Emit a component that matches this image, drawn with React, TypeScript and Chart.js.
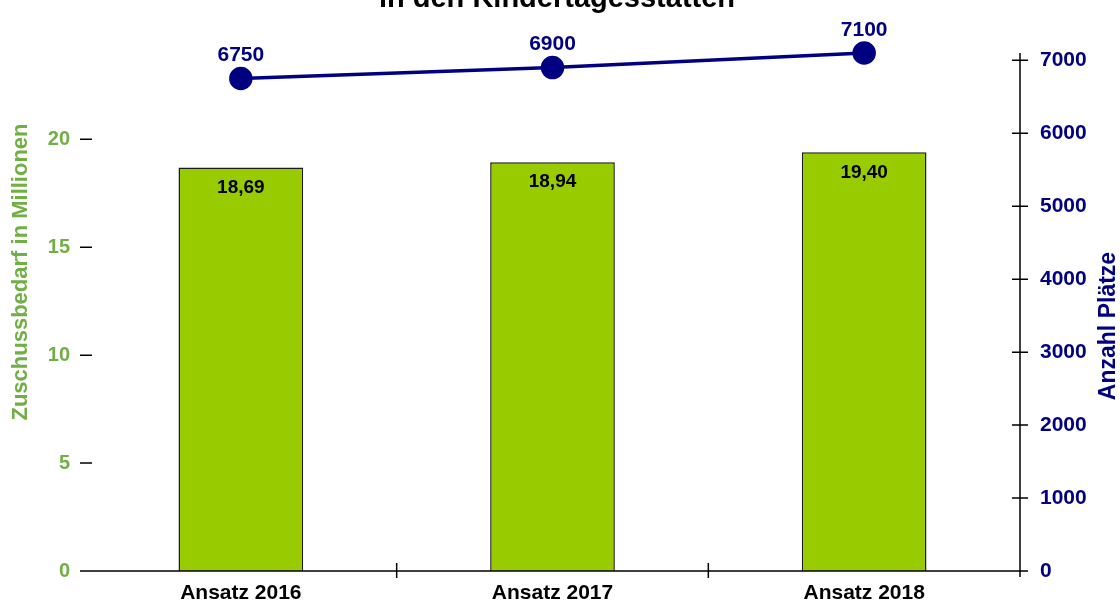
import React, { useEffect, useRef } from "react";
import { Chart, registerables } from "chart.js";

Chart.register(...registerables);

const categories = ["Ansatz 2016", "Ansatz 2017", "Ansatz 2018"];
const zuschussMio = [18.69, 18.94, 19.4];
const anzahlPlaetze = [6750, 6900, 7100];
const leftTickValues = [0, 5, 10, 15, 20];
const rightTickValues = [0, 1000, 2000, 3000, 4000, 5000, 6000, 7000];
const titleText = "in den Kindertagesstätten";
const leftAxisTitle = "Zuschussbedarf in Millionen";
const rightAxisTitle = "Anzahl Plätze";

const FONT = "'Liberation Sans', Arial, Helvetica, sans-serif";
const GREEN_TEXT = "#72AE46";
const NAVY = "#000080";
const BAR_GREEN = "#99CC00";

const decoPlugin = {
  id: "deco",
  afterDraw(chart: any) {
    const { ctx, chartArea } = chart;
    const { left, right, bottom } = chartArea;
    const xs = chart.scales.x;
    const yl = chart.scales.y;
    const yr = chart.scales.y1;
    ctx.save();
    // axes
    ctx.strokeStyle = "#000";
    ctx.lineWidth = 1.5;
    ctx.beginPath();
    ctx.moveTo(left - 5, bottom);
    ctx.lineTo(right, bottom);
    for (let i = 1; i < categories.length; i++) {
      const xp = (xs.getPixelForValue(i - 1) + xs.getPixelForValue(i)) / 2;
      ctx.moveTo(xp, bottom - 8);
      ctx.lineTo(xp, bottom + 7);
    }
    leftTickValues.forEach((v) => {
      const yp = yl.getPixelForValue(v);
      ctx.moveTo(left - 5, yp);
      ctx.lineTo(left + 7, yp);
    });
    ctx.moveTo(right, yr.getPixelForValue(yr.max));
    ctx.lineTo(right, bottom + 6);
    rightTickValues.forEach((v) => {
      const yp = yr.getPixelForValue(v);
      ctx.moveTo(right - 8, yp);
      ctx.lineTo(right + 8, yp);
    });
    ctx.stroke();

    // title
    ctx.fillStyle = "#000";
    ctx.font = `bold 29px ${FONT}`;
    ctx.textAlign = "center";
    ctx.textBaseline = "alphabetic";
    ctx.fillText(titleText, chart.width / 2 - 3, 7);

    // axis titles
    ctx.textBaseline = "middle";
    ctx.save();
    ctx.translate(21, 272);
    ctx.rotate(-Math.PI / 2);
    ctx.fillStyle = GREEN_TEXT;
    ctx.font = `bold 22px ${FONT}`;
    ctx.fillText(leftAxisTitle, 0, 0);
    ctx.restore();
    ctx.save();
    ctx.translate(1109, 326);
    ctx.rotate(-Math.PI / 2);
    ctx.fillStyle = NAVY;
    ctx.font = `bold 23px ${FONT}`;
    ctx.fillText(rightAxisTitle, 0, 0);
    ctx.restore();

    // data labels
    const barMeta = chart.getDatasetMeta(1);
    ctx.fillStyle = "#000";
    ctx.font = `bold 19px ${FONT}`;
    barMeta.data.forEach((el: any, i: number) => {
      ctx.fillText(zuschussMio[i].toFixed(2).replace(".", ","), el.x, el.y + 20);
    });
    const lineMeta = chart.getDatasetMeta(0);
    ctx.fillStyle = NAVY;
    ctx.font = `bold 21px ${FONT}`;
    lineMeta.data.forEach((el: any, i: number) => {
      ctx.fillText(String(anzahlPlaetze[i]), el.x, el.y - 23);
    });
    ctx.restore();
  },
};

export default function App() {
  const canvasRef = useRef<HTMLCanvasElement | null>(null);

  useEffect(() => {
    if (!canvasRef.current) return;
    const chart = new Chart(canvasRef.current, {
      type: "bar",
      data: {
        labels: categories,
        datasets: [
          {
            type: "line",
            label: rightAxisTitle,
            data: anzahlPlaetze,
            yAxisID: "y1",
            borderColor: NAVY,
            backgroundColor: NAVY,
            borderWidth: 3.5,
            pointRadius: 10,
            pointBackgroundColor: NAVY,
            pointBorderColor: NAVY,
            tension: 0,
            clip: false,
            order: 0,
          } as any,
          {
            type: "bar",
            label: leftAxisTitle,
            data: zuschussMio,
            yAxisID: "y",
            backgroundColor: BAR_GREEN,
            borderColor: "#1a1a1a",
            borderWidth: 1.5,
            barPercentage: 0.4,
            categoryPercentage: 1,
            order: 1,
          },
        ],
      },
      options: {
        responsive: false,
        animation: false,
        devicePixelRatio: 1,
        layout: { padding: { top: 53, left: 0, right: 0, bottom: 0 } },
        plugins: {
          legend: { display: false },
          tooltip: { enabled: false },
          title: { display: false },
        },
        scales: {
          x: {
            grid: { display: false, drawTicks: false },
            border: { display: false },
            ticks: {
              color: "#000",
              font: { size: 21, weight: "bold", family: FONT },
              padding: 10,
              maxRotation: 0,
            },
            afterFit: (s: any) => {
              s.height = 34;
            },
          },
          y: {
            position: "left",
            min: 0,
            max: 24,
            grid: { display: false, drawTicks: false },
            border: { display: false },
            afterBuildTicks: (s: any) => {
              s.ticks = leftTickValues.map((v) => ({ value: v }));
            },
            ticks: {
              color: GREEN_TEXT,
              font: { size: 20, weight: "bold", family: FONT },
              padding: 15,
              callback: (v: any) => String(v),
            },
            afterFit: (s: any) => {
              s.width = 85;
            },
          },
          y1: {
            position: "right",
            min: 0,
            max: 7100,
            grid: { display: false, drawTicks: false },
            border: { display: false },
            afterBuildTicks: (s: any) => {
              s.ticks = rightTickValues.map((v) => ({ value: v }));
            },
            ticks: {
              color: NAVY,
              font: { size: 21, weight: "bold", family: FONT },
              padding: 20,
              callback: (v: any) => String(v),
            },
            afterFit: (s: any) => {
              s.width = 100;
            },
          },
        },
      } as any,
      plugins: [decoPlugin],
    });
    return () => chart.destroy();
  }, []);

  return (
    <div style={{ position: "absolute", left: 0, top: 0, width: 1120, height: 605 }}>
      <canvas ref={canvasRef} width={1120} height={605} style={{ display: "block" }} />
    </div>
  );
}
